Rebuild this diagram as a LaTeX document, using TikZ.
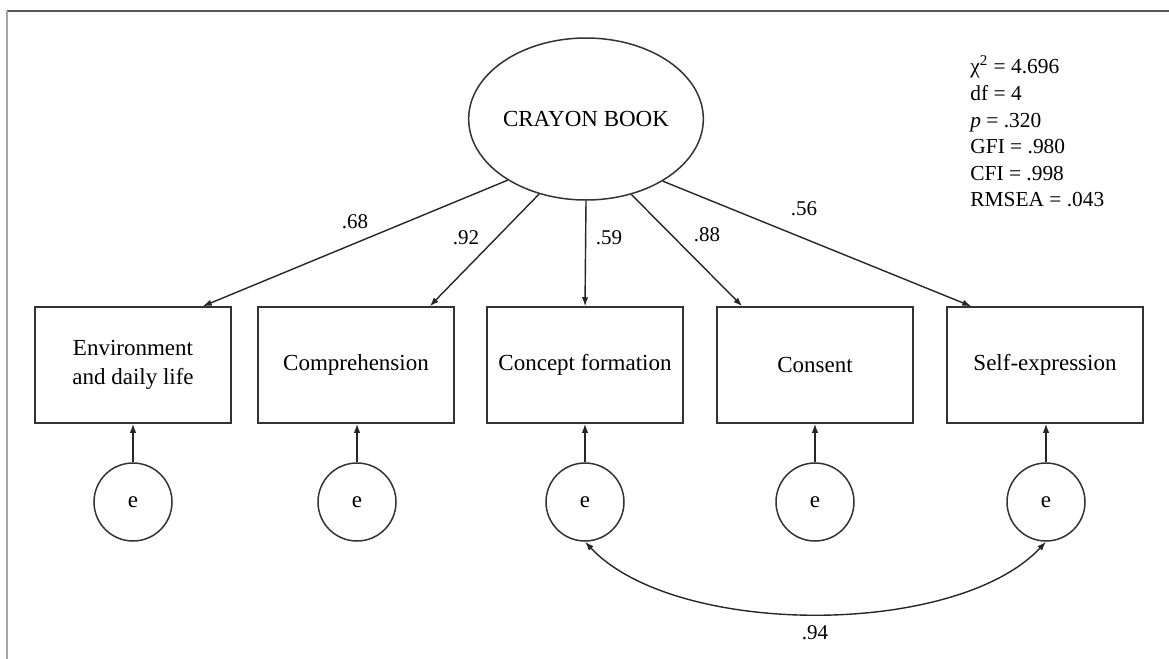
\documentclass[tikz,border=0pt]{standalone}
\usepackage{fontspec}
\setmainfont{Liberation Serif}
\usetikzlibrary{arrows.meta,shapes.geometric,calc}
\begin{document}
\begin{tikzpicture}[x=0.5pt,y=-0.5pt,
  every node/.style={font=\fontsize{11.5}{14.5}\selectfont},
  obs/.style={draw=black!80,line width=0.75pt,minimum width=98pt,minimum height=58pt,align=center,inner sep=0pt},
  err/.style={circle,draw=black!80,line width=0.75pt,minimum size=39pt,inner sep=0pt},
  lat/.style={ellipse,draw=black!80,line width=0.75pt,minimum width=101pt,minimum height=81pt,inner sep=0pt},
  arr/.style={-{Latex[length=4.5pt,width=3.2pt]},line width=0.7pt,draw=black!85},
  lbl/.style={font=\fontsize{10.5}{12}\selectfont,inner sep=0pt},
  fit/.style={font=\fontsize{10.7}{13}\selectfont,inner sep=0pt,anchor=base west},
]
\useasboundingbox (0,0) rectangle (1169,659);
\coordinate (ftl) at (7,11);
\coordinate (ftr) at (1169,11);
\coordinate (fbl) at (7,659);
\draw[black!65,line width=0.6pt] (ftl) -- (ftr);
\draw[black!35,line width=0.8pt] (ftl) -- (fbl);

\node[lat] (cb) at (586,119) {CRAYON BOOK};
\node[obs] (o1) at (133,365) {Environment\\and daily life};
\node[obs] (o2) at (356,365) {Comprehension};
\node[obs] (o3) at (585,365) {Concept formation};
\node[obs] (o4) at (815,365) {Consent};
\node[obs] (o5) at (1045,365) {Self-expression};

\node[err] (e1) at (133,502) {e};
\node[err] (e2) at (357,502) {e};
\node[err] (e3) at (585,502) {e};
\node[err] (e4) at (815,502) {e};
\node[err] (e5) at (1046,502) {e};

\draw[arr] (cb.218.5) -- ($(o1.north east)+(-29,0)$);
\draw[arr] (cb.238.9) -- ($(o2.north east)+(-25,0)$);
\draw[arr] (cb.270) -- (o3.north);
\draw[arr] (cb.301.1) -- ($(o4.north west)+(26,0)$);
\draw[arr] (cb.321.6) -- ($(o5.north west)+(25,0)$);

\node[lbl] (l1) at (355,222) {.68};
\node[lbl] (l2) at (466,238) {.92};
\node[lbl] (l3) at (609,238) {.59};
\node[lbl] (l4) at (707,235) {.88};
\node[lbl] (l5) at (804,209) {.56};

\foreach \i in {1,...,5}{
  \draw[arr] (e\i.north) -- (e\i.north |- o\i.south);
}

\draw[arr,{Latex[length=4.5pt,width=3.2pt]}-{Latex[length=4.5pt,width=3.2pt]}] (e3.south) .. controls +(90,96) and +(-90,96) .. (e5.south);
\node[lbl] (l6) at (815,633) {.94};

\node[fit] (f1) at (970,73) {χ\textsuperscript{2} = 4.696};
\node[fit] (f2) at (970,100) {df = 4};
\node[fit] (f3) at (970,127) {\textit{p} = .320};
\node[fit] (f4) at (970,153) {GFI = .980};
\node[fit] (f5) at (970,180) {CFI = .998};
\node[fit] (f6) at (970,206) {RMSEA = .043};
\end{tikzpicture}
\end{document}
